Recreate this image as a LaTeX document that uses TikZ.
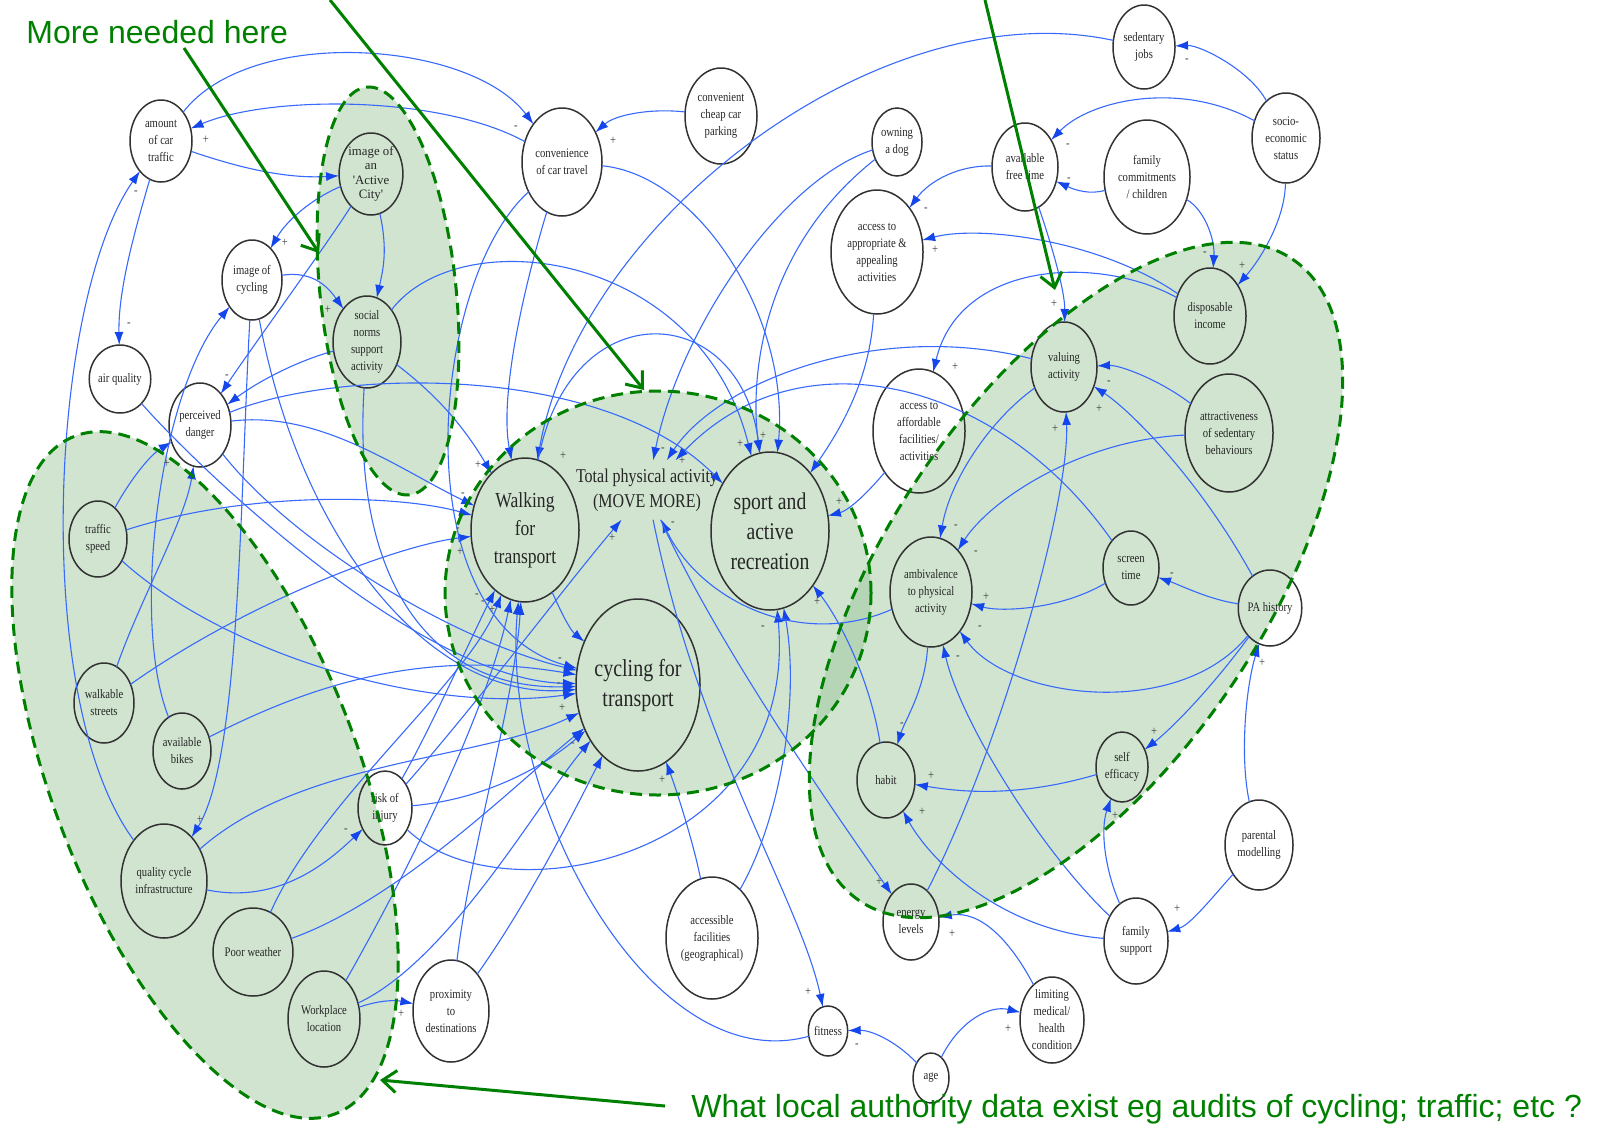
\documentclass[tikz,border=0pt]{standalone}
\usepackage{fontspec}
\setmainfont{Liberation Serif}
\newfontfamily\nf[FakeStretch=0.82]{Liberation Serif}
\newfontfamily\gsans{Liberation Sans}
\usetikzlibrary{arrows.meta,shapes.geometric}
\definecolor{eb}{RGB}{55,105,252}
\definecolor{ab}{RGB}{20,70,235}
\definecolor{gg}{RGB}{0,128,0}
\definecolor{gfill}{RGB}{150,195,150}
\definecolor{nb}{RGB}{50,50,50}
\begin{document}
\begin{tikzpicture}[x=0.5pt,y=-0.5pt,
 nd/.style={ellipse, draw=nb, line width=0.75pt, inner sep=0pt, outer sep=0pt, align=center, text=black!85, font=\nf\fontsize{6.5}{8.5}\selectfont},
 sz/.style 2 args={minimum width=#1pt, minimum height=#2pt},
 e/.style={draw=eb, line width=0.55pt, -{Latex[length=6.5pt,width=4.5pt,color=ab]}},
 sg/.style={font=\nf\fontsize{6.5}{6.5}\selectfont, text=black!75, inner sep=0pt},
 gfillst/.style={fill=gfill, fill opacity=0.45},
 gdash/.style={draw=gg, line width=1.5pt, dash pattern=on 6pt off 3.5pt},
 garrow/.style={draw=gg, line width=1.5pt, -{Straight Barb[length=7pt,width=11pt]}},
 gtext/.style={font=\gsans\fontsize{16}{18}\selectfont, text=gg, inner sep=0pt, anchor=base west},
]
\useasboundingbox (0,0) rectangle (1599,1125);

% green regions (fills)
\fill[gfillst, rotate around={6:(388,291)}] (388,291) ellipse [x radius=68, y radius=205];
\fill[gfillst, rotate around={21:(205,775)}] (205,775) ellipse [x radius=153, y radius=363];
\fill[gfillst] (658,593) ellipse [x radius=213, y radius=202];
\fill[gfillst, rotate around={56:(1076,580)}] (1076,580) ellipse [x radius=387, y radius=188];

% nodes
\node[nd,sz={31}{41}] (act) at (161,141) {amount\\of car\\traffic};
\node[nd,sz={31}{41},font=\rmfamily\fontsize{6.4}{7.2}\selectfont] (city) at (371,174) {image of\\an\\\textquotesingle Active\\City\textquotesingle};
\node[nd,sz={30}{40}] (icyc) at (252,280) {image of\\cycling};
\node[nd,sz={34}{46}] (norms) at (367,342) {social\\norms\\support\\activity};
\node[nd,sz={27}{34}] (airq) at (120,379) {air quality};
\node[nd,sz={31}{42}] (danger) at (200,425) {perceived\\danger};
\node[nd,sz={40}{54}] (conv) at (562,162) {convenience\\of car travel};
\node[nd,sz={36}{48}] (park) at (721,116) {convenient\\cheap car\\parking};
\node[nd,sz={25}{34}] (dog) at (897,142) {owning\\a dog};
\node[nd,sz={46}{62}] (appr) at (877,252) {access to\\appropriate \&\\appealing\\activities};
\node[nd,sz={33}{44}] (free) at (1025,167) {available\\free time};
\node[nd,sz={43}{57}] (family) at (1147,177) {family\\commitments\\/ children};
\node[nd,sz={31}{42}] (sedj) at (1144,47) {sedentary\\jobs};
\node[nd,sz={34}{45}] (ses) at (1286,138) {socio-\\economic\\status};
\node[nd,sz={36}{48}] (income) at (1210,316) {disposable\\income};
\node[nd,sz={33}{45}] (valuing) at (1064,367) {valuing\\activity};
\node[nd,sz={44}{59}] (attract) at (1229,433) {attractiveness\\of sedentary\\behaviours};
\node[nd,sz={46}{62}] (afford) at (919,431) {access to\\affordable\\facilities/\\activities};
\node[nd,sz={54}{72},font=\nf\fontsize{10.7}{14}\selectfont] (walk) at (525,530) {Walking\\for\\transport};
\node[align=center, inner xsep=2pt, inner ysep=4pt, text=black!85, font=\nf\fontsize{9.75}{12.5}\selectfont] (total) at (647,490) {Total physical activity\\(MOVE MORE)};
\node[nd,sz={59}{79},font=\nf\fontsize{12}{15}\selectfont] (sport) at (770,531) {sport and\\active\\recreation};
\node[nd,sz={62}{86},font=\nf\fontsize{12.2}{15}\selectfont] (cycle) at (638,685) {cycling for\\transport};
\node[nd,sz={41}{55}] (ambiv) at (931,592) {ambivalence\\to physical\\activity};
\node[nd,sz={28}{37}] (screen) at (1131,568) {screen\\time};
\node[nd,sz={28}{38}] (pah) at (1270,608) {PA history};
\node[nd,sz={29}{38}] (tspeed) at (98,539) {traffic\\speed};
\node[nd,sz={30}{40}] (wstreets) at (104,703) {walkable\\streets};
\node[nd,sz={29}{38}] (bikes) at (182,751) {available\\bikes};
\node[nd,sz={27}{37}] (risk) at (385,808) {risk of\\injury};
\node[nd,sz={43}{57}] (qci) at (164,881) {quality cycle\\infrastructure};
\node[nd,sz={33}{44}] (weather) at (253,952) {Poor weather};
\node[nd,sz={36}{48}] (work) at (324,1019) {Workplace\\location};
\node[nd,sz={38}{51}] (prox) at (451,1011) {proximity\\to\\destinations};
\node[nd,sz={46}{61}] (accfac) at (712,938) {accessible\\facilities\\(geographical)};
\node[nd,sz={19}{25}] (fitness) at (828,1031) {fitness};
\node[nd,sz={18}{25}] (age) at (931,1078) {age};
\node[nd,sz={32}{43}] (limit) at (1052,1020) {limiting\\medical/\\health\\condition};
\node[nd,sz={28}{38}] (energy) at (911,922) {energy\\levels};
\node[nd,sz={29}{38}] (habit) at (886,780) {habit};
\node[nd,sz={26}{35}] (selfeff) at (1122,767) {self\\efficacy};
\node[nd,sz={32}{43}] (famsup) at (1136,941) {family\\support};
\node[nd,sz={34}{45}] (parent) at (1259,845) {parental\\modelling};

% connectors
\draw[e] (act) .. controls (250,25) and (470,40) .. (conv);
\draw[e] (conv) .. controls (440,95) and (270,95) .. (act);
\draw[e] (act) .. controls (260,175) and (300,178) .. (city);
\draw[e] (city) .. controls (320,195) and (290,215) .. (icyc);
\draw[e] (city) .. controls (388,250) and (383,270) .. (norms);
\draw[e] (icyc) .. controls (315,270) and (330,290) .. (norms);
\draw[e] (act) .. controls (135,230) and (118,290) .. (airq);
\draw[e] (qci) .. controls (30,700) and (50,300) .. (act);
\draw[e] (city) .. controls (330,240) and (250,350) .. (danger);
\draw[e] (norms) .. controls (300,360) and (260,380) .. (danger);
\draw[e] (icyc) .. controls (240,500) and (240,760) .. (qci);
\draw[e] (icyc) .. controls (300,540) and (430,700) .. (cycle);
\draw[e] (danger) .. controls (320,410) and (400,470) .. (walk);
\draw[e] (danger) .. controls (330,370) and (600,360) .. (sport);
\draw[e] (danger) .. controls (290,540) and (450,640) .. (cycle);
\draw[e] (airq) .. controls (200,470) and (420,680) .. (cycle);
\draw[e] (tspeed) .. controls (250,490) and (400,495) .. (walk);
\draw[e] (tspeed) .. controls (220,650) and (420,715) .. (cycle);
\draw[e] (tspeed) .. controls (130,480) and (150,455) .. (danger);
\draw[e] (wstreets) .. controls (250,600) and (400,545) .. (walk);
\draw[e] (wstreets) .. controls (140,600) and (185,520) .. (danger);
\draw[e] (bikes) .. controls (130,620) and (160,390) .. (icyc);
\draw[e] (bikes) .. controls (320,680) and (430,650) .. (cycle);
\draw[e] (qci) .. controls (280,905) and (330,860) .. (risk);
\draw[e] (qci) .. controls (300,760) and (480,760) .. (cycle);
\draw[e] (weather) .. controls (320,800) and (470,680) .. (walk);
\draw[e] (weather) .. controls (400,900) and (520,780) .. (cycle);
\draw[e] (work) .. controls (380,1000) and (395,1000) .. (prox);
\draw[e] (work) .. controls (420,850) and (490,700) .. (walk);
\draw[e] (work) .. controls (450,960) and (540,800) .. (cycle);
\draw[e] (prox) .. controls (470,850) and (515,700) .. (walk);
\draw[e] (prox) .. controls (530,900) and (580,800) .. (cycle);
\draw[e] (accfac) .. controls (695,850) and (680,800) .. (cycle);
\draw[e] (accfac) .. controls (780,820) and (800,700) .. (sport);
\draw[e] (risk) .. controls (430,730) and (470,640) .. (walk);
\draw[e] (risk) .. controls (480,800) and (540,770) .. (cycle);
\draw[e] (risk) .. controls (500,920) and (800,860) .. (sport);
\draw[e] (risk) .. controls (480,700) and (570,580) .. (total);
\draw[e] (walk) .. controls (560,610) and (570,630) .. (cycle);
\draw[e] (norms) .. controls (430,390) and (460,420) .. (walk);
\draw[e] (norms) .. controls (352,580) and (430,690) .. (cycle);
\draw[e] (norms) .. controls (460,220) and (700,250) .. (sport);
\draw[e] (conv) .. controls (520,300) and (500,400) .. (walk);
\draw[e] (conv) .. controls (430,280) and (400,620) .. (cycle);
\draw[e] (conv) .. controls (700,175) and (790,320) .. (sport);
\draw[e] (park) .. controls (650,108) and (615,115) .. (conv);
\draw[e] (sedj) .. controls (880,-10) and (580,220) .. (walk);
\draw[e] (dog) .. controls (780,180) and (680,330) .. (total);
\draw[e] (dog) .. controls (760,250) and (750,380) .. (sport);
\draw[e] (valuing) .. controls (880,320) and (720,380) .. (total);
\draw[e] (screen) .. controls (1000,380) and (800,330) .. (total);
\draw[e] (appr) .. controls (870,380) and (840,430) .. (sport);
\draw[e] (afford) .. controls (870,490) and (850,510) .. (sport);
\draw[e] (habit) .. controls (870,680) and (840,620) .. (sport);
\draw[e] (ambiv) .. controls (800,650) and (700,600) .. (total);
\draw[e] (ambiv) .. controls (925,690) and (905,720) .. (habit);
\draw[e] (total) .. controls (700,750) and (800,900) .. (fitness);
\draw[e] (total) .. controls (720,650) and (840,820) .. (energy);
\draw[e] (fitness) .. controls (650,1080) and (500,800) .. (walk);
\draw[e] (age) .. controls (895,1040) and (870,1030) .. (fitness);
\draw[e] (age) .. controls (960,1020) and (990,1005) .. (limit);
\draw[e] (limit) .. controls (1010,940) and (980,910) .. (energy);
\draw[e] (energy) .. controls (1000,750) and (1070,500) .. (valuing);
\draw[e] (famsup) .. controls (1000,930) and (930,860) .. (habit);
\draw[e] (famsup) .. controls (1105,870) and (1100,830) .. (selfeff);
\draw[e] (famsup) .. controls (1040,850) and (960,720) .. (ambiv);
\draw[e] (parent) .. controls (1210,900) and (1190,925) .. (famsup);
\draw[e] (parent) .. controls (1240,760) and (1245,690) .. (pah);
\draw[e] (selfeff) .. controls (1010,800) and (950,790) .. (habit);
\draw[e] (pah) .. controls (1210,690) and (1170,730) .. (selfeff);
\draw[e] (pah) .. controls (1180,720) and (1010,700) .. (ambiv);
\draw[e] (pah) .. controls (1210,600) and (1180,585) .. (screen);
\draw[e] (pah) .. controls (1200,480) and (1130,410) .. (valuing);
\draw[e] (screen) .. controls (1060,610) and (1000,612) .. (ambiv);
\draw[e] (valuing) .. controls (990,420) and (950,480) .. (ambiv);
\draw[e] (attract) .. controls (1080,440) and (990,500) .. (ambiv);
\draw[e] (attract) .. controls (1160,380) and (1120,365) .. (valuing);
\draw[e] (ses) .. controls (1250,70) and (1200,45) .. (sedj);
\draw[e] (ses) .. controls (1180,80) and (1090,100) .. (free);
\draw[e] (ses) .. controls (1285,220) and (1260,260) .. (income);
\draw[e] (family) .. controls (1090,195) and (1075,190) .. (free);
\draw[e] (family) .. controls (1205,210) and (1215,240) .. (income);
\draw[e] (free) .. controls (1050,240) and (1065,290) .. (valuing);
\draw[e] (free) .. controls (960,165) and (930,180) .. (appr);
\draw[e] (income) .. controls (1100,240) and (980,225) .. (appr);
\draw[e] (income) .. controls (1100,255) and (960,260) .. (afford);
\draw[e] (walk) .. controls (570,290) and (740,300) .. (sport);

% signs
\foreach \p/\t [count=\k] in {{206,140}/+,{285,243}/+,{328,310}/+,{129,325}/-,{136,193}/-,{227,377}/-,{516,128}/-,{613,141}/+,{1068,146}/-,{1069,180}/-,{926,210}/-,{935,250}/+,{1054,304}/+,{955,367}/+,{1187,61}/-,{1205,254}/-,{1242,266}/+,{167,464}/+,{478,465}/+,{563,456}/+,{463,495}/-,{458,530}/-,{460,552}/+,{477,596}/-,{483,603}/-,{492,610}/+,{663,450}/-,{682,461}/+,{612,538}/+,{673,524}/-,{740,444}/+,{763,436}/+,{763,628}/-,{817,602}/+,{573,745}/-,{839,502}/+,{956,527}/-,{976,553}/-,{986,597}/+,{980,628}/-,{958,658}/-,{902,725}/-,{1172,575}/-,{1099,409}/+,{1055,429}/+,{1109,383}/-,{1154,732}/+,{1262,663}/+,{200,820}/+,{346,831}/-,{401,1014}/+,{662,780}/+,{808,992}/+,{931,776}/+,{922,812}/+,{1115,816}/+,{879,882}/+,{952,934}/+,{1177,909}/+,{1008,1029}/+,{857,1046}/-,{560,660}/-,{559,685}/-,{562,708}/+}
  \node[sg] (sg\k) at (\p) {\t};

% dashed borders
\draw[gdash, rotate around={6:(388,291)}] (388,291) ellipse [x radius=68, y radius=205];
\draw[gdash, rotate around={21:(205,775)}] (205,775) ellipse [x radius=153, y radius=363];
\draw[gdash] (658,593) ellipse [x radius=213, y radius=202];
\draw[gdash, rotate around={56:(1076,580)}] (1076,580) ellipse [x radius=387, y radius=188];

% annotations
\node[gtext] (t1) at (26,43) {More needed here};
\node[gtext] (t2) at (691,1117) {What local authority data exist eg audits of cycling; traffic; etc ?};
\coordinate (g1a) at (184,48); \coordinate (g1b) at (319,253);
\coordinate (g2a) at (330,0); \coordinate (g2b) at (644,390);
\coordinate (g3a) at (985,0); \coordinate (g3b) at (1055,290);
\coordinate (g4a) at (665,1106); \coordinate (g4b) at (380,1080);
\draw[garrow] (g1a) -- (g1b);
\draw[garrow] (g2a) -- (g2b);
\draw[garrow] (g3a) -- (g3b);
\draw[garrow] (g4a) -- (g4b);
\end{tikzpicture}
\end{document}
